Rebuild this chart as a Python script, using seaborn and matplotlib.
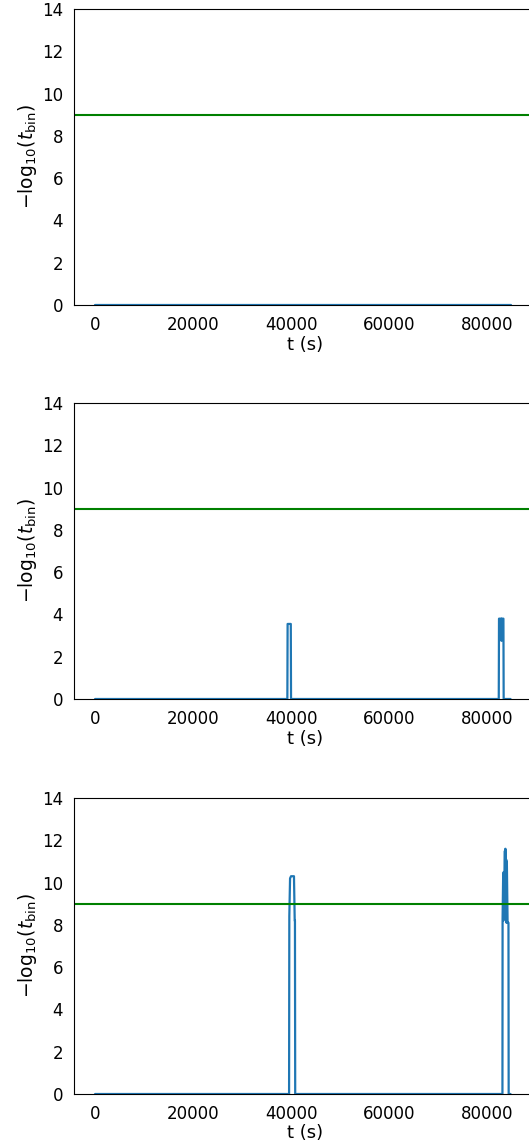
import matplotlib
matplotlib.use("Agg")
import matplotlib.pyplot as plt
import seaborn as sns

# ---- data ----
t_panel1 = [0, 84800]
y_panel1 = [0, 0]

t_panel2 = [0, 39250, 39300, 39950, 40000, 82400, 82450, 82900, 82950, 83000, 83350, 83400, 84800]
y_panel2 = [0, 0, 3.55, 3.55, 0, 0, 3.8, 3.8, 2.75, 3.8, 3.8, 0, 0]

t_panel3 = [0, 39600, 39650, 39800, 40000, 40600, 40750, 40800, 40850,
            83150, 83180, 83300, 83350, 83400, 83500, 83650, 83700, 83750,
            83820, 83900, 83980, 84050, 84200, 84380, 84420, 84800]
y_panel3 = [0, 0, 8.4, 10.2, 10.3, 10.3, 8.2, 8.2, 0,
            0, 8.3, 10.4, 8.2, 10.5, 8.5, 11.5, 8.3, 11.6,
            8.4, 11.1, 8.1, 11.0, 8.1, 8.1, 0, 0]

threshold = 9
x_ticks = [0, 20000, 40000, 60000, 80000]
y_ticks = [0, 2, 4, 6, 8, 10, 12, 14]

sns.set_style("white")
plt.rcParams["font.family"] = ["DejaVu Sans"]
plt.rcParams["text.color"] = "black"
plt.rcParams["axes.labelcolor"] = "black"
plt.rcParams["xtick.color"] = "black"
plt.rcParams["ytick.color"] = "black"

fig = plt.figure(figsize=(5.29, 11.45), dpi=100)
left = 74 / 529
width = (536 - 74) / 529
height = 296 / 1145
bottoms = [(1145 - 305) / 1145, (1145 - 699) / 1145, (1145 - 1094) / 1145]
series = [(t_panel1, y_panel1), (t_panel2, y_panel2), (t_panel3, y_panel3)]

for b, (tt, yy) in zip(bottoms, series):
    ax = fig.add_axes([left, b, width, height])
    sns.lineplot(x=tt, y=yy, ax=ax, sort=False, estimator=None,
                 color="#1f77b4", linewidth=1.6)
    ax.axhline(threshold, color="green", linewidth=1.5)
    ax.set_xlim(-4300, 90000)
    ax.set_ylim(0, 14)
    ax.set_xticks(x_ticks)
    ax.set_yticks(y_ticks)
    ax.tick_params(labelsize=12, length=0, pad=8, colors="black")
    ax.set_xlabel("t (s)", fontsize=13, labelpad=1)
    ax.set_ylabel(r"$-\mathrm{log}_{10}(t_{\rm bin})$", fontsize=13.5, labelpad=2)
    for s in ax.spines.values():
        s.set_color("black")
        s.set_linewidth(0.8)

fig.savefig("out.png", dpi=100)
